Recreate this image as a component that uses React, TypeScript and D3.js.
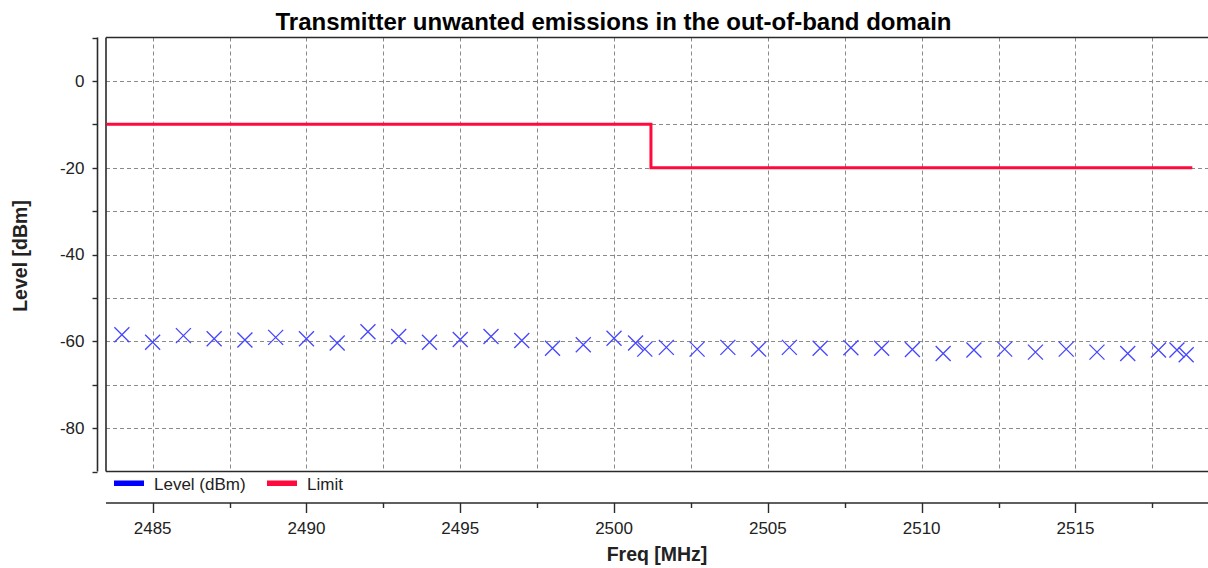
import * as d3 from "d3";
import { useEffect, useRef } from "react";

// measured frequency points (MHz) and level (dBm)
const levelFreqs = [
  2484.0, 2485.0, 2486.0, 2487.0, 2488.0, 2489.0, 2490.0, 2491.0, 2492.0,
  2493.0, 2494.0, 2495.0, 2496.0, 2497.0, 2498.0, 2499.0, 2500.0, 2500.7,
  2501.0, 2501.7, 2502.7, 2503.7, 2504.7, 2505.7, 2506.7, 2507.7, 2508.7,
  2509.7, 2510.7, 2511.7, 2512.7, 2513.7, 2514.7, 2515.7, 2516.7, 2517.7,
  2518.3, 2518.6,
];
const levels = [
  -58.5, -60.2, -58.7, -59.4, -59.7, -59.1, -59.4, -60.4, -57.8, -58.9, -60.2,
  -59.6, -58.9, -59.8, -61.6, -60.8, -59.3, -60.4, -61.8, -61.4, -61.8, -61.4,
  -61.8, -61.4, -61.6, -61.5, -61.6, -61.9, -62.8, -62.0, -61.8, -62.5, -61.8,
  -62.5, -62.8, -62.0, -62.0, -63.1,
];

// limit mask
const limitFreqs = [2483.5, 2501.2, 2501.2, 2518.8];
const limitValues = [-10, -10, -20, -20];

const xTicks = [2485, 2490, 2495, 2500, 2505, 2510, 2515];
const xGrid = d3.range(2485, 2519, 2.5);
const yTicks = d3.range(-90, 11, 10);
const yLabels = [0, -20, -40, -60, -80];
const yGrid = d3.range(-80, 1, 10);
const legendItems = [
  { label: "Level (dBm)", color: "#0000ff" },
  { label: "Limit", color: "#ff0a3c" },
];

const W = 1208;
const H = 568;
const plotLeft = 106;
const plotTop = 37.5;
const plotBottom = 471.5;
const axisX = 97.5;
const axisY = 503;
const font = "'Liberation Sans', Arial, sans-serif";
const ink = "#2a2a2a";

export default function App() {
  const svgRef = useRef<SVGSVGElement>(null);

  useEffect(() => {
    const svg = d3.select(svgRef.current);
    svg.selectAll("*").remove();

    const x = d3
      .scaleLinear()
      .domain([2483.5, 2519.5])
      .range([plotLeft + 0.5, plotLeft + 0.5 + 36 * 30.76]);
    const y = d3.scaleLinear().domain([-90, 10]).range([plotBottom, plotTop]);
    const px = (v: number) => Math.round(x(v)) + 0.5;
    const py = (v: number) => Math.round(y(v)) + 0.5;

    svg.append("rect").attr("width", W).attr("height", H).attr("fill", "#fff");

    // title
    svg
      .append("text")
      .attr("x", 613.5)
      .attr("y", 29.5)
      .attr("text-anchor", "middle")
      .attr("font-family", font)
      .attr("font-weight", "bold")
      .attr("font-size", 24)
      .attr("fill", "#000")
      .text("Transmitter unwanted emissions in the out-of-band domain");

    // grid
    const grid = svg.append("g").attr("stroke", "#8a8a8a").attr("stroke-dasharray", "4,3");
    grid
      .selectAll("line.v")
      .data(xGrid)
      .join("line")
      .attr("class", "v")
      .attr("x1", px)
      .attr("x2", px)
      .attr("y1", plotTop)
      .attr("y2", plotBottom);
    grid
      .selectAll("line.h")
      .data(yGrid)
      .join("line")
      .attr("class", "h")
      .attr("x1", plotLeft)
      .attr("x2", W)
      .attr("y1", py)
      .attr("y2", py);

    // plot frame: top, left, bottom (open on the right)
    const frame = svg.append("g").attr("stroke", ink).attr("stroke-width", 1.6);
    frame.append("line").attr("x1", plotLeft).attr("x2", W).attr("y1", plotTop).attr("y2", plotTop);
    frame.append("line").attr("x1", plotLeft).attr("x2", plotLeft).attr("y1", plotTop).attr("y2", plotBottom);
    frame.append("line").attr("x1", plotLeft).attr("x2", W).attr("y1", plotBottom).attr("y2", plotBottom);

    // limit
    const line = d3
      .line<number>()
      .x((d, i) => x(limitFreqs[i]))
      .y((d) => y(d));
    svg
      .append("path")
      .attr("d", line(limitValues))
      .attr("fill", "none")
      .attr("stroke", "#ff0a3c")
      .attr("stroke-width", 3);

    // level markers (x crosses)
    const s = 7.5;
    svg
      .append("g")
      .selectAll("path")
      .data(levels)
      .join("path")
      .attr("transform", (d, i) => `translate(${x(levelFreqs[i])},${y(d)})`)
      .attr("d", `M${-s},${-s}L${s},${s}M${-s},${s}L${s},${-s}`)
      .attr("stroke", "#4646ff")
      .attr("stroke-width", 1.3)
      .attr("fill", "none");

    // y axis
    const yAxis = svg.append("g");
    yAxis
      .append("line")
      .attr("x1", axisX)
      .attr("x2", axisX)
      .attr("y1", plotTop)
      .attr("y2", plotBottom)
      .attr("stroke", ink)
      .attr("stroke-width", 1.6);
    yAxis
      .selectAll("line.t")
      .data(yTicks)
      .join("line")
      .attr("class", "t")
      .attr("x1", axisX - 5)
      .attr("x2", axisX)
      .attr("y1", py)
      .attr("y2", py)
      .attr("stroke", ink)
      .attr("stroke-width", 1.4);
    yAxis
      .selectAll("text")
      .data(yLabels)
      .join("text")
      .attr("x", axisX - 13)
      .attr("y", (d) => y(d))
      .attr("dy", "0.35em")
      .attr("text-anchor", "end")
      .attr("font-family", font)
      .attr("font-size", 17)
      .attr("fill", "#222")
      .text((d) => String(d));

    // x axis
    const xAxis = svg.append("g");
    xAxis
      .append("line")
      .attr("x1", plotLeft)
      .attr("x2", W)
      .attr("y1", axisY)
      .attr("y2", axisY)
      .attr("stroke", ink)
      .attr("stroke-width", 1.6);
    xAxis
      .selectAll("line.t")
      .data(xGrid)
      .join("line")
      .attr("class", "t")
      .attr("x1", px)
      .attr("x2", px)
      .attr("y1", axisY)
      .attr("y2", (d) => axisY + (xTicks.includes(d) ? 10 : 5))
      .attr("stroke", ink)
      .attr("stroke-width", 1.4);
    xAxis
      .selectAll("text")
      .data(xTicks)
      .join("text")
      .attr("x", (d) => x(d))
      .attr("y", axisY + 31)
      .attr("text-anchor", "middle")
      .attr("font-family", font)
      .attr("font-size", 17)
      .attr("fill", "#222")
      .text((d) => String(d));

    // axis titles
    svg
      .append("text")
      .attr("transform", "translate(27,256) rotate(-90)")
      .attr("text-anchor", "middle")
      .attr("font-family", font)
      .attr("font-weight", "bold")
      .attr("font-size", 19.5)
      .attr("fill", "#222")
      .text("Level [dBm]");
    svg
      .append("text")
      .attr("x", 657)
      .attr("y", 561)
      .attr("text-anchor", "middle")
      .attr("font-family", font)
      .attr("font-weight", "bold")
      .attr("font-size", 19.5)
      .attr("fill", "#222")
      .text("Freq [MHz]");

    // legend
    const legend = svg
      .append("g")
      .selectAll("g")
      .data(legendItems)
      .join("g")
      .attr("transform", (d, i) => `translate(${114 + i * 153},483.5)`);
    legend
      .append("rect")
      .attr("y", -3)
      .attr("width", 30)
      .attr("height", 5.5)
      .attr("fill", (d) => d.color);
    legend
      .append("text")
      .attr("x", 40)
      .attr("y", 6)
      .attr("font-family", font)
      .attr("font-size", 17)
      .attr("fill", "#222")
      .text((d) => d.label);
  }, []);

  return (
    <svg
      ref={svgRef}
      width={W}
      height={H}
      style={{ position: "absolute", left: 0, top: 0, overflow: "hidden" }}
    ></svg>
  );
}
